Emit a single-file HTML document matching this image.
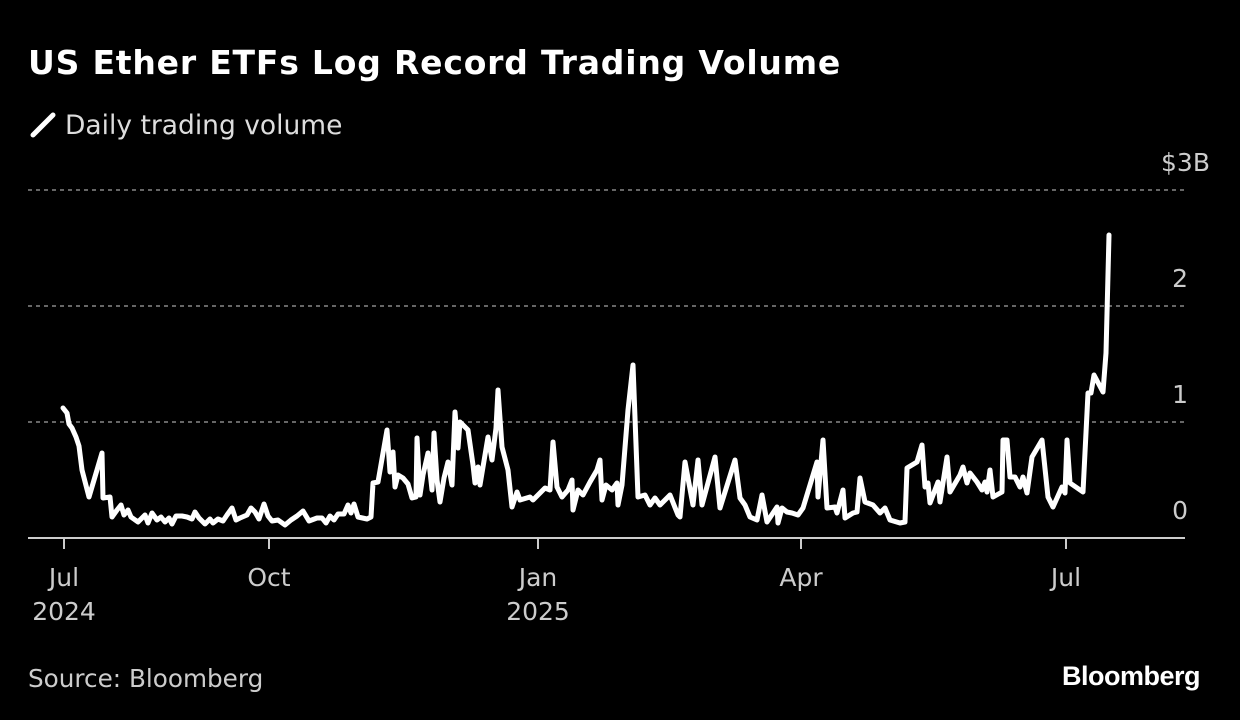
<!DOCTYPE html>
<html><head><style>
body{margin:0;background:#000;width:1240px;height:720px;overflow:hidden;font-family:"DejaVu Sans",sans-serif;color:#fff}
</style></head><body>
<svg width="1240" height="720" xmlns="http://www.w3.org/2000/svg" style="position:absolute;left:0;top:0">
<text x="28" y="74" font-size="33" font-weight="bold" fill="#fff" letter-spacing="0.8" font-family="DejaVu Sans, sans-serif">US Ether ETFs Log Record Trading Volume</text>
<line x1="33" y1="135" x2="53" y2="115" stroke="#fff" stroke-width="5" stroke-linecap="round"/>
<text x="65" y="134" font-size="26.5" fill="#ddd" font-family="DejaVu Sans, sans-serif">Daily trading volume</text>
<g stroke="#888" stroke-width="1.5" stroke-dasharray="4,4">
<line x1="28" y1="190" x2="1185" y2="190"/><line x1="28" y1="306" x2="1185" y2="306"/><line x1="28" y1="422" x2="1185" y2="422"/>
</g>
<line x1="28" y1="538" x2="1185" y2="538" stroke="#ccc" stroke-width="2"/>
<g stroke="#ccc" stroke-width="2"><line x1="64" y1="538" x2="64" y2="549"/><line x1="269" y1="538" x2="269" y2="549"/><line x1="538" y1="538" x2="538" y2="549"/><line x1="801" y1="538" x2="801" y2="549"/><line x1="1066" y1="538" x2="1066" y2="549"/></g>
<g font-size="25" fill="#ccc" text-anchor="end" font-family="DejaVu Sans, sans-serif">
<text x="1210" y="171">$3B</text><text x="1188" y="287">2</text><text x="1188" y="403">1</text><text x="1188" y="519">0</text></g>
<g font-size="25" fill="#ccc" text-anchor="middle" font-family="DejaVu Sans, sans-serif">
<text x="64" y="586">Jul</text><text x="64" y="620">2024</text><text x="269" y="586">Oct</text><text x="538" y="586">Jan</text><text x="538" y="620">2025</text><text x="801" y="586">Apr</text><text x="1066" y="586">Jul</text></g>
<text x="28" y="687" font-size="24.7" fill="#ccc" font-family="DejaVu Sans, sans-serif">Source: Bloomberg</text>
<text x="1200" y="685" font-size="27" font-weight="bold" fill="#fff" text-anchor="end" font-family="Liberation Sans, sans-serif" letter-spacing="-0.5">Bloomberg</text>
<polyline fill="none" stroke="#fff" stroke-width="5" stroke-linejoin="round" stroke-linecap="round" points="63,408 67,413 69,424 72,428 76,437 79,446 82,470 89,497 102,453 103,498 110,497 112,517 117,510 121,505 124,515 128,510 131,517 138,522 145,515 148,523 152,513 157,520 161,517 165,522 169,518 172,524 176,516 182,516 187,517 192,519 195,512 199,518 205,524 210,519 213,523 218,519 223,521 227,515 232,508 236,520 240,518 247,515 251,508 255,512 259,519 264,504 268,516 272,521 278,520 285,525 291,520 297,516 303,511 309,521 317,518 322,518 326,523 330,516 334,520 338,514 344,514 348,505 351,513 354,504 358,517 367,519 371,517 373,483 378,482 387,430 390,472 393,452 395,487 398,475 403,478 408,484 412,498 416,497 417,438 420,495 423,475 428,453 432,490 434,433 437,480 440,502 444,478 448,462 452,485 455,412 458,448 460,422 468,430 473,465 475,483 478,467 480,485 488,437 492,460 496,428 498,390 502,447 508,470 512,507 517,492 520,500 530,497 533,500 540,493 545,488 550,490 553,442 557,487 562,497 568,490 572,480 573,510 578,490 583,495 590,482 597,470 600,460 602,500 606,485 612,490 617,483 618,505 622,485 628,410 633,365 638,497 645,495 650,505 655,498 660,505 665,500 670,495 678,515 680,517 685,462 693,505 698,460 702,505 715,457 720,508 735,460 740,498 745,505 750,517 757,520 762,495 767,522 777,507 778,523 782,508 787,512 792,513 798,515 803,508 817,462 818,497 823,440 827,508 835,507 837,513 843,490 845,518 853,513 857,512 860,478 865,502 873,505 880,513 885,508 890,520 900,523 905,522 907,468 917,462 922,445 925,487 928,483 930,503 938,482 940,502 947,457 950,492 960,475 963,467 967,483 970,473 977,482 982,490 985,482 987,492 990,470 993,497 1002,492 1003,440 1007,440 1010,477 1015,477 1020,487 1023,477 1027,493 1032,457 1042,440 1048,497 1053,507 1062,487 1065,493 1067,440 1070,483 1083,492 1088,393 1091,393 1094,375 1103,392 1106,353 1109,235"/>
</svg>
</body></html>
